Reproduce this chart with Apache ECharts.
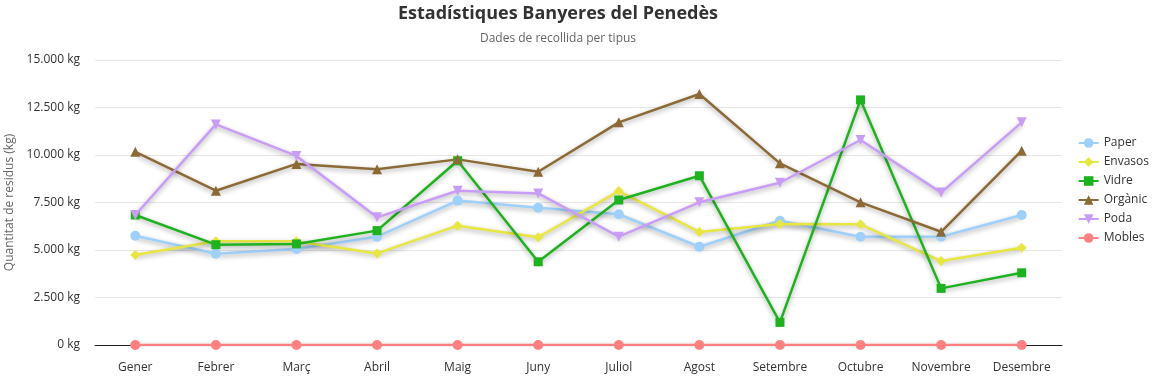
<!DOCTYPE html>
<html>
<head>
<meta charset="utf-8">
<title>Estadístiques Banyeres del Penedès</title>
<script src="https://cdn.jsdelivr.net/npm/echarts@6/dist/echarts.min.js"></script>
<style>
  html, body { margin: 0; padding: 0; background: #fff; }
  #chart { width: 1157px; height: 378px; }
</style>
</head>
<body>
<div id="chart"></div>
<script>
// mesos
const months = ['Gener', 'Febrer', 'Març', 'Abril', 'Maig', 'Juny', 'Juliol', 'Agost', 'Setembre', 'Octubre', 'Novembre', 'Desembre']

// kg per tipus
const paper   = [5750, 4800, 5050, 5700, 7600, 7230, 6880, 5170, 6540, 5700, 5700, 6840]
const envasos = [4740, 5460, 5460, 4820, 6280, 5670, 8100, 5950, 6370, 6350, 4420, 5120]
const vidre   = [6840, 5280, 5320, 6020, 9700, 4380, 7630, 8910, 1190, 12900, 2980, 3800]
const organic = [10170, 8120, 9530, 9250, 9770, 9120, 11720, 13210, 9560, 7510, 5960, 10230]
const poda    = [6840, 11610, 9950, 6720, 8120, 7980, 5700, 7510, 8540, 10790, 8020, 11720]
const mobles  = [0, 0, 0, 0, 0, 0, 0, 0, 0, 0, 0, 0]

const yTicks = { min: 0, max: 15000, step: 2500 }

const font = "'Segoe UI', 'Open Sans', 'Noto Sans', sans-serif"

// separador de milers amb punt
function kg(v) {
  return String(v).replace(/\B(?=(\d{3})+(?!\d))/g, '.') + ' kg'
}

function line(name, data, color, symbol, rotate) {
  return {
    name: name,
    type: 'line',
    data: data,
    symbol: symbol,
    symbolSize: symbol === 'rect' ? 9 : 10,
    symbolRotate: rotate || 0,
    itemStyle: { color: color },
    lineStyle: {
      width: 2.5,
      color: color,
      shadowColor: 'rgba(0,0,0,0.35)',
      shadowBlur: 5,
      shadowOffsetY: 2
    }
  }
}

const chart = echarts.init(document.getElementById('chart'))

chart.setOption({
  animation: false,
  textStyle: { fontFamily: font },
  title: {
    text: 'Estadístiques Banyeres del Penedès',
    subtext: 'Dades de recollida per tipus',
    left: 553,
    textAlign: 'center',
    top: 0,
    itemGap: 10,
    textStyle: { fontSize: 18, fontWeight: 'bold', color: '#333', fontFamily: font },
    subtextStyle: { fontSize: 12, color: '#666', fontFamily: font }
  },
  legend: {
    orient: 'vertical',
    right: 3,
    top: 132,
    itemGap: 7,
    itemWidth: 20,
    itemHeight: 12,
    textStyle: { fontSize: 12, color: '#333' }
  },
  grid: {
    left: 95,
    right: 95,
    top: 60,
    bottom: 33,
    outerBoundsMode: 'none'
  },
  xAxis: {
    type: 'category',
    data: months,
    axisLine: { lineStyle: { color: '#222', width: 1 } },
    axisTick: { show: false },
    axisLabel: { color: '#333', fontSize: 12, margin: 17 }
  },
  yAxis: {
    type: 'value',
    min: yTicks.min,
    max: yTicks.max,
    interval: yTicks.step,
    name: 'Quantitat de residus (kg)',
    nameLocation: 'middle',
    nameGap: 78,
    nameTextStyle: { color: '#666', fontSize: 12 },
    axisLabel: { color: '#333', fontSize: 12, margin: 15, formatter: kg },
    splitLine: { lineStyle: { color: '#e6e6e6' } }
  },
  series: [
    line('Paper', paper, '#9fd0fb', 'circle'),
    line('Envasos', envasos, '#e8e640', 'diamond'),
    line('Vidre', vidre, '#1fb21f', 'rect'),
    line('Orgànic', organic, '#8c6a36', 'triangle'),
    line('Poda', poda, '#c99cf7', 'triangle', 180),
    line('Mobles', mobles, '#ff8080', 'circle')
  ]
})
</script>
</body>
</html>
